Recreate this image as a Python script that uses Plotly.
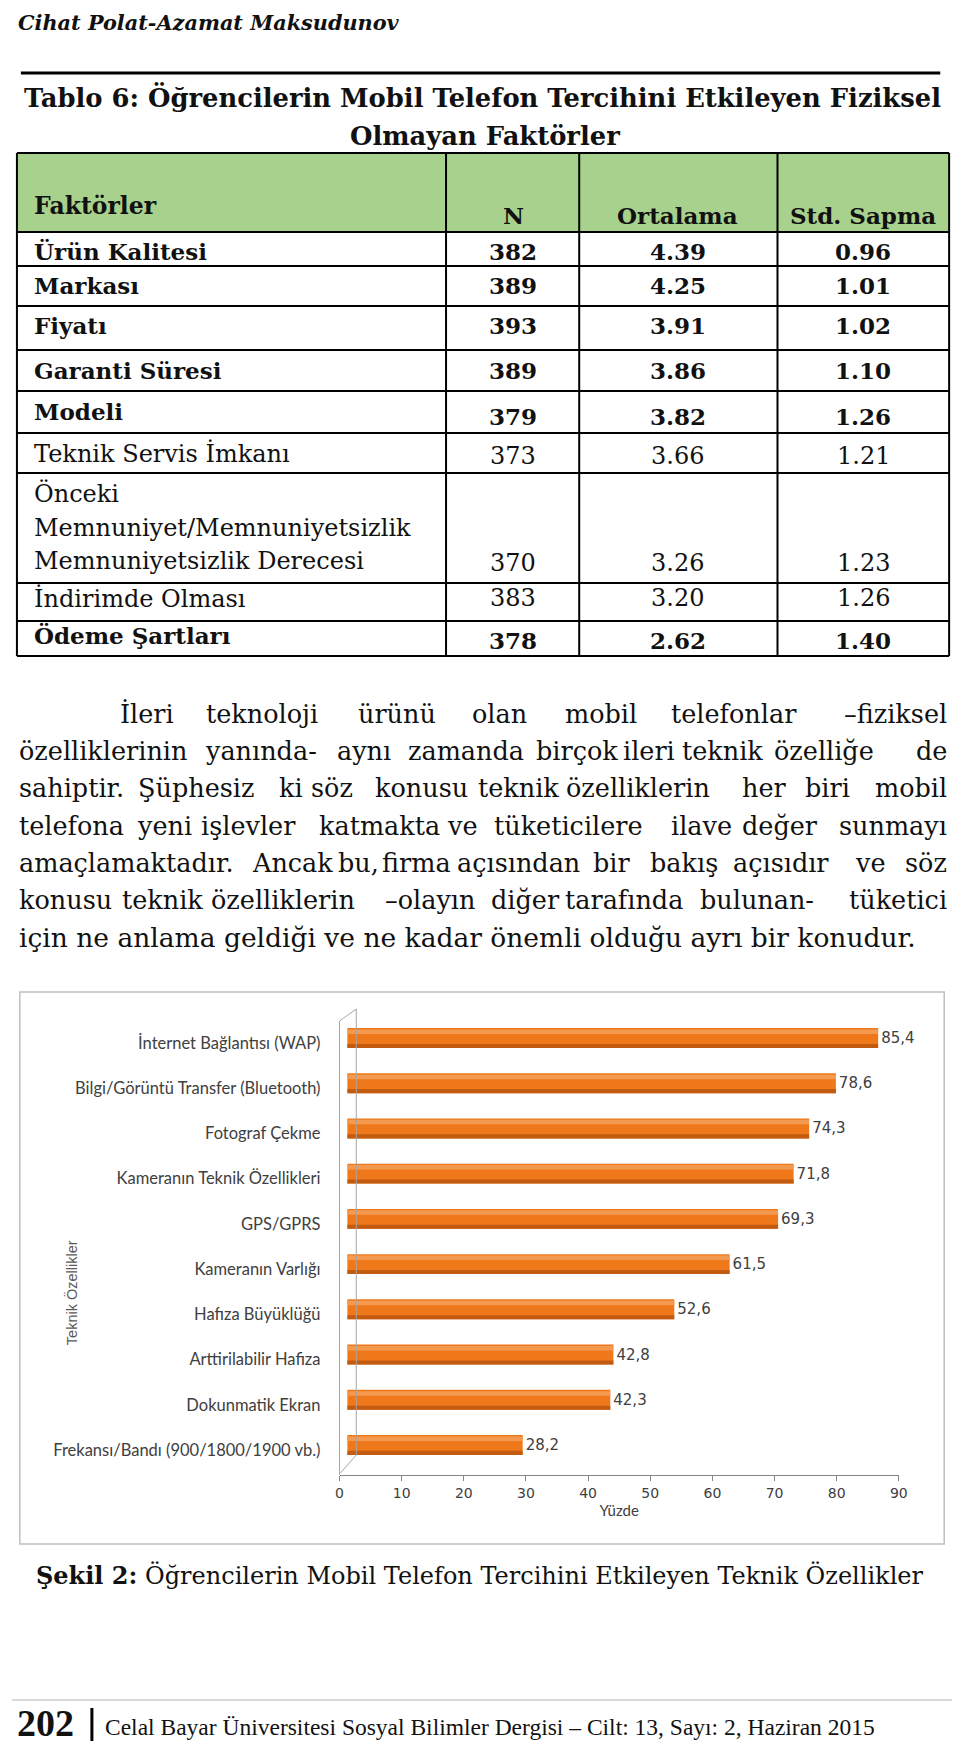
import plotly.graph_objects as go

W, H = 960, 1741

# ---------------- data ----------------
header_author = "Cihat Polat-Azamat Maksudunov"
table_title = ["Tablo 6: Öğrencilerin Mobil Telefon Tercihini Etkileyen Fiziksel",
               "Olmayan Faktörler"]
table_columns = ["Faktörler", "N", "Ortalama", "Std. Sapma"]
factors = [["Ürün Kalitesi"], ["Markası"], ["Fiyatı"], ["Garanti Süresi"], ["Modeli"],
           ["Teknik Servis İmkanı"],
           ["Önceki", "Memnuniyet/Memnuniyetsizlik", "Memnuniyetsizlik Derecesi"],
           ["İndirimde Olması"], ["Ödeme Şartları"]]
n_values = [382, 389, 393, 389, 379, 373, 370, 383, 378]
mean_values = [4.39, 4.25, 3.91, 3.86, 3.82, 3.66, 3.26, 3.20, 2.62]
sd_values = [0.96, 1.01, 1.02, 1.10, 1.26, 1.21, 1.23, 1.26, 1.40]
bold_rows = [True, True, True, True, True, False, False, False, True]

paragraph = [
    ["İleri", "teknoloji", "ürünü", "olan", "mobil", "telefonlar", "–fiziksel"],
    ["özelliklerinin", "yanında-", "aynı", "zamanda", "birçok", "ileri", "teknik", "özelliğe", "de"],
    ["sahiptir.", "Şüphesiz", "ki", "söz", "konusu", "teknik", "özelliklerin", "her", "biri", "mobil"],
    ["telefona", "yeni", "işlevler", "katmakta", "ve", "tüketicilere", "ilave", "değer", "sunmayı"],
    ["amaçlamaktadır.", "Ancak", "bu,", "firma", "açısından", "bir", "bakış", "açısıdır", "ve", "söz"],
    ["konusu", "teknik", "özelliklerin", "–olayın", "diğer", "tarafında", "bulunan-", "tüketici"],
    ["için ne anlama geldiği ve ne kadar önemli olduğu ayrı bir konudur."],
]

features = ["İnternet Bağlantısı (WAP)", "Bilgi/Görüntü Transfer (Bluetooth)", "Fotograf Çekme",
            "Kameranın Teknik Özellikleri", "GPS/GPRS", "Kameranın Varlığı", "Hafıza Büyüklüğü",
            "Arttirilabilir Hafiza", "Dokunmatik Ekran", "Frekansı/Bandı (900/1800/1900 vb.)"]
percents = [85.4, 78.6, 74.3, 71.8, 69.3, 61.5, 52.6, 42.8, 42.3, 28.2]
x_ticks = [0, 10, 20, 30, 40, 50, 60, 70, 80, 90]
x_title = "Yüzde"
y_title = "Teknik Özellikler"
caption_bold = "Şekil 2:"
caption_text = "Öğrencilerin Mobil Telefon Tercihini Etkileyen Teknik Özellikler"
page_no = "202"
footer_text = "Celal Bayar Üniversitesi Sosyal Bilimler Dergisi – Cilt: 13, Sayı: 2, Haziran 2015"

# ---------------- layout helpers ----------------
def px(x):
    return x / W

def py(y):
    return 1 - y / H

SERIF = "DejaVu Serif"
annotations = []
shapes = []

def text(x, y, s, size, bold=False, italic=False, anchor="left", family=SERIF, color="#111111"):
    if bold:
        s = "<b>" + s + "</b>"
    if italic:
        s = "<i>" + s + "</i>"
    annotations.append(dict(x=px(x), y=py(y), xref="paper", yref="paper", text=s,
                            showarrow=False, xanchor=anchor, yanchor="middle",
                            font=dict(family=family, size=size, color=color)))

def line(x0, y0, x1, y1, color="#000000", width=2):
    shapes.append(dict(type="line", xref="paper", yref="paper", x0=px(x0), y0=py(y0),
                       x1=px(x1), y1=py(y1), line=dict(color=color, width=width)))

# header
text(4, 14, header_author, 20.8, bold=True, italic=True)
line(9, 65, 941, 65, width=3)

# table title
text(10, 90, table_title[0], 25.8, bold=True)
text(479, 128, table_title[1], 25.8, bold=True, anchor="center")

# table
t_left, t_right = 5, 950
col_x = [5, 440, 575, 776, 950]
row_y = [145, 224, 258, 298, 342, 383, 425, 465, 575, 613, 648]
shapes.append(dict(type="rect", xref="paper", yref="paper", x0=px(t_left), y0=py(row_y[1]),
                   x1=px(t_right), y1=py(row_y[0]), fillcolor="#A9D18E", line=dict(width=0),
                   layer="below"))
for yy in row_y:
    line(t_left, yy, t_right, yy, width=2)
for xx in col_x:
    line(xx, row_y[0], xx, row_y[-1], width=2)

val_cx = [508, 675, 863]
text(20, 198, table_columns[0], 23.5, bold=True)
for cx, name in zip(val_cx, table_columns[1:]):
    text(cx, 208, name, 23, bold=True, anchor="center")

label_y = [[243], [278], [317], [362], [403], [445], [485, 520, 553], [590], [627]]
value_y = [243, 278, 317, 362, 408, 448, 555, 590, 632]
for i, lab in enumerate(factors):
    b = bold_rows[i]
    fs = 23 if b else 24
    for ln, yy in zip(lab, label_y[i]):
        text(20, yy, ln, fs, bold=b)
    vals = [str(n_values[i]), f"{mean_values[i]:.2f}", f"{sd_values[i]:.2f}"]
    for cx, v in zip(val_cx, vals):
        text(cx, value_y[i], v, fs, bold=b, anchor="center")

# paragraph (justified by word placement)
para_y = [706, 743, 780, 818, 855, 892, 929]
word_x = [
    [107, 195, 349, 464, 559, 666, None],
    [5, 194, 327, 399, 529, 617, 677, 770, None],
    [5, 126, 269, 301, 366, 470, 560, 738, 802, None],
    [5, 125, 190, 309, 439, 487, 666, 738, None],
    [5, 241, 328, 373, 449, 587, 645, 729, 853, None],
    [5, 109, 200, 376, 484, 559, 695, None],
    [5],
]
for li, (words, xs, yy) in enumerate(zip(paragraph, word_x, para_y)):
    fs = 26.5 if li == len(paragraph) - 1 else 25.5
    for w, xx in zip(words, xs):
        if xx is None:
            text(950, yy, w, fs, anchor="right")
        else:
            text(xx, yy, w, fs)

# chart border
shapes.append(dict(type="rect", xref="paper", yref="paper", x0=px(8), y0=py(1536),
                   x1=px(945), y1=py(984), line=dict(color="#BFBFBF", width=1.5)))
# 3D wall lines
wall = "#A6A6A6"
line(332, 1013, 332, 1467, color=wall, width=1)
line(349, 1001, 349, 1447, color=wall, width=1)
line(332, 1013, 349, 1001, color=wall, width=1)
line(333, 1465, 349, 1447, color=wall, width=1)

annotations.append(dict(x=px(60), y=py(1285), xref="paper", yref="paper", text=y_title,
                        showarrow=False, textangle=-90, xanchor="center", yanchor="middle",
                        font=dict(family="Liberation Sans", size=14.5, color="#595959")))

# caption
text(22, 1567, "<b>" + caption_bold + "</b> " + caption_text, 24)

# footer
line(0, 1692, 958, 1692, color="#D9D9D9", width=2)
text(3, 1715, page_no, 38, bold=True, family="Liberation Serif")
line(81, 1700, 81, 1737, width=3)
text(92, 1719, footer_text, 23.5, family="Liberation Serif")

# ---------------- chart ----------------
x_dom = [px(332), px(899)]
y_dom = [py(1467), py(1007)]
sp = 45.22
lab_top, bar_top = 1035, 1030

labels_txt = [f"{v:.1f}".replace(".", ",") for v in percents]

fig = go.Figure()
# invisible carrier trace so the visible axes (ticks, category labels) are drawn
fig.add_trace(go.Scatter(x=percents, y=features, mode="markers", xaxis="x", yaxis="y",
                         marker=dict(opacity=0), hoverinfo="skip"))
fig.add_trace(go.Bar(x=percents, y=features, orientation="h", xaxis="x2", yaxis="y2",
                     width=0.44, marker=dict(color="#EE781A", line=dict(width=0)),
                     text=labels_txt, textposition="outside", cliponaxis=False,
                     textfont=dict(family="DejaVu Sans", size=15, color="#404040"),
                     hoverinfo="x+y"))
fig.add_trace(go.Bar(x=percents, y=features, orientation="h", xaxis="x2", yaxis="y2",
                     width=0.1, offset=-0.19, marker=dict(color="#F49A50", line=dict(width=0)),
                     hoverinfo="skip"))
fig.add_trace(go.Bar(x=percents, y=features, orientation="h", xaxis="x2", yaxis="y2",
                     width=0.09, offset=0.13, marker=dict(color="#C25A10", line=dict(width=0)),
                     hoverinfo="skip"))

fig.update_layout(
    width=W, height=H, margin=dict(l=0, r=0, t=0, b=0),
    paper_bgcolor="white", plot_bgcolor="rgba(0,0,0,0)", showlegend=False,
    barmode="overlay",
    xaxis=dict(domain=x_dom, range=[0, 90], tickvals=x_ticks, ticks="outside", ticklen=5,
               tickcolor="#868686", showline=True, linecolor="#868686", linewidth=1,
               showgrid=False, zeroline=False, anchor="y",
               tickfont=dict(family="DejaVu Sans", size=14, color="#404040"),
               title=dict(text=x_title, standoff=5,
                          font=dict(family="Lato", size=15, color="#404040"))),
    yaxis=dict(domain=y_dom, type="category", categoryorder="array", categoryarray=features,
               range=[(1467 - lab_top) / sp, (1007 - lab_top) / sp], showline=False,
               ticks="", showgrid=False, zeroline=False, anchor="x", ticklabelstandoff=18,
               tickfont=dict(family="Lato", size=16.5, color="#404040")),
    xaxis2=dict(domain=x_dom, range=[-8 / 6.3, 90 - 8 / 6.3], visible=False, anchor="y2"),
    yaxis2=dict(domain=y_dom, type="category", categoryorder="array", categoryarray=features,
                range=[(1467 - bar_top) / sp, (1007 - bar_top) / sp], visible=False, anchor="x2"),
    annotations=annotations, shapes=shapes,
)

fig.write_html("out.html")
